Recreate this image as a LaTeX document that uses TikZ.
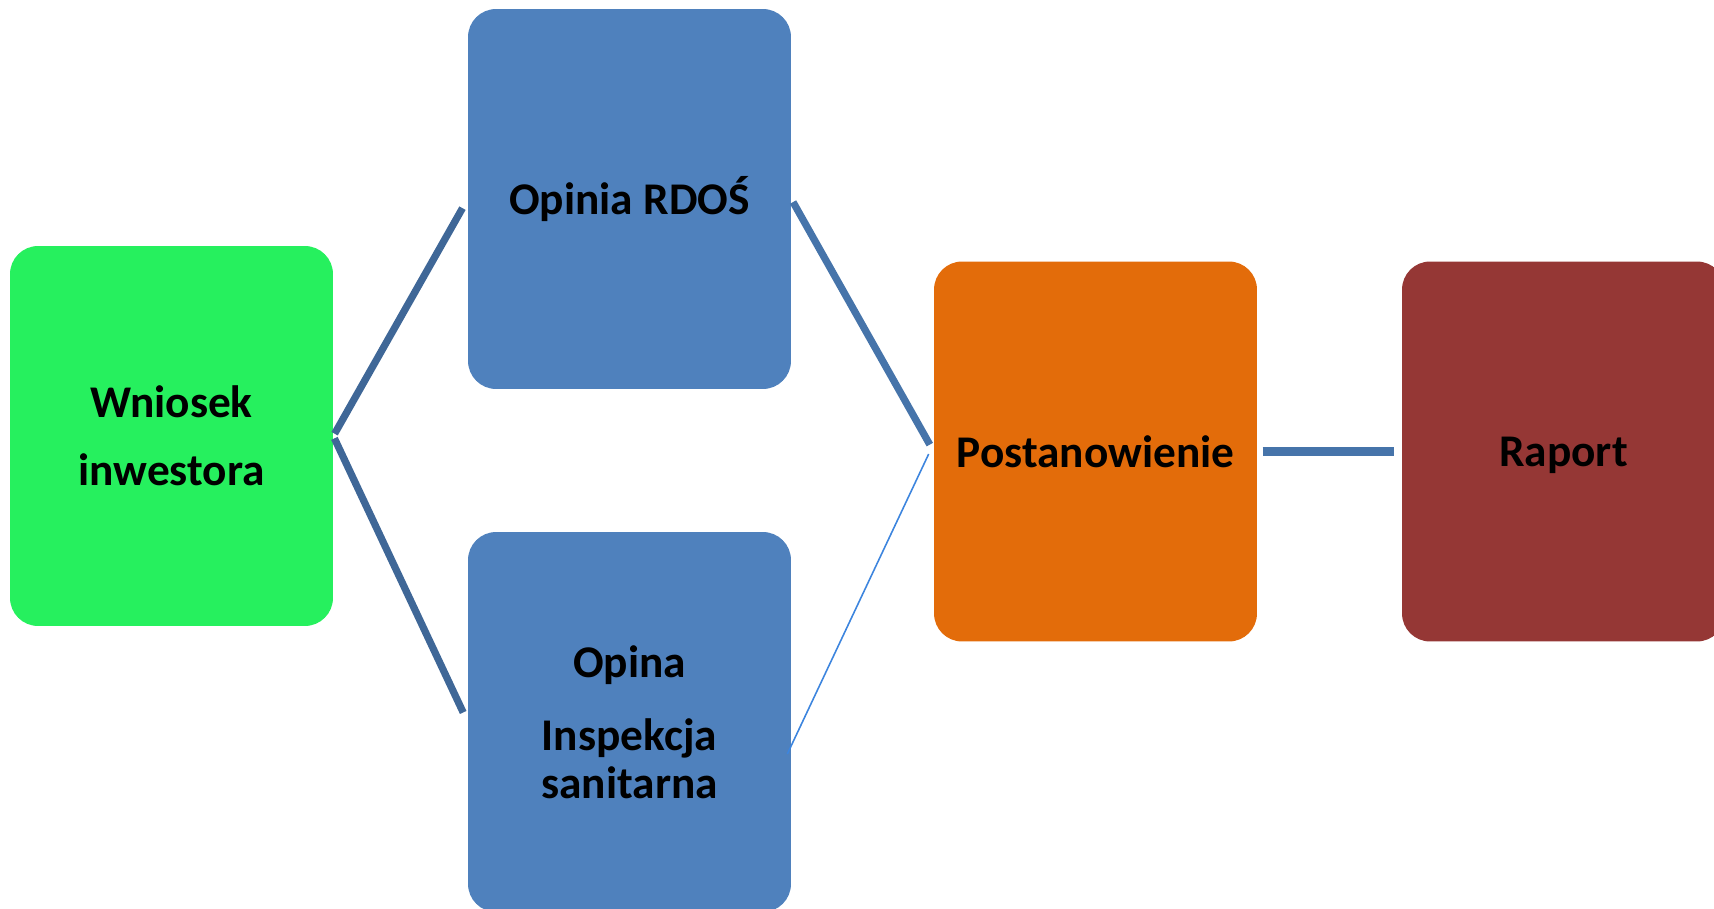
\documentclass[tikz,border=0pt]{standalone}
\usepackage{fontspec}
\setmainfont{Carlito}
\definecolor{zielony}{RGB}{38,240,94}
\definecolor{niebieski}{RGB}{79,129,189}
\definecolor{pomarancz}{RGB}{227,108,10}
\definecolor{bordo}{RGB}{149,55,53}
\definecolor{liniaL}{RGB}{63,103,151}
\definecolor{liniaP}{RGB}{70,116,170}
\definecolor{liniaC}{RGB}{61,133,222}
\begin{document}
\begin{tikzpicture}[x=.02cm,y=-.02cm,
  blok/.style={rounded corners=.56cm,minimum width=6.46cm,minimum height=7.6cm,inner sep=0pt,align=center,
    font=\bfseries\fontsize{25.8}{27.5}\selectfont},
  lacze/.style={line width=4.1pt,draw=#1}]
\useasboundingbox (0,0) rectangle (1714,909);
\clip (0,0) rectangle (1714,909);
\path (171.5,436) node[blok,fill=zielony] (wniosek) {Wniosek\\[11pt]inwestora}
(629.5,199) node[blok,fill=niebieski] (rdos) {Opinia RDOŚ}
(629.5,722) node[blok,fill=niebieski] (sanepid) {Opina\\[14pt]Inspekcja\\sanitarna}
(1095.5,451.5) node[blok,fill=pomarancz] (postan) {Postanowienie}
(1563.5,451.5) node[blok,fill=bordo,text depth=0pt] (raport) {Raport};
\foreach \d in {rdos, sanepid} \draw[lacze=liniaL,shorten <=1.5pt,shorten >=6pt] (wniosek.east) -- (\d.west);
\draw[lacze=liniaP,shorten <=2pt,shorten >=4.5pt] (rdos.east) -- (postan.west);
\draw[liniaC,line width=.9pt] ([shift={(-4,32)}]sanepid.east) -- ([shift={(-5,2.5)}]postan.west);
\draw[lacze=liniaP,line width=4.8pt,shorten <=3pt,shorten >=4.5pt] (postan.east) -- (raport.west);
\end{tikzpicture}
\end{document}
